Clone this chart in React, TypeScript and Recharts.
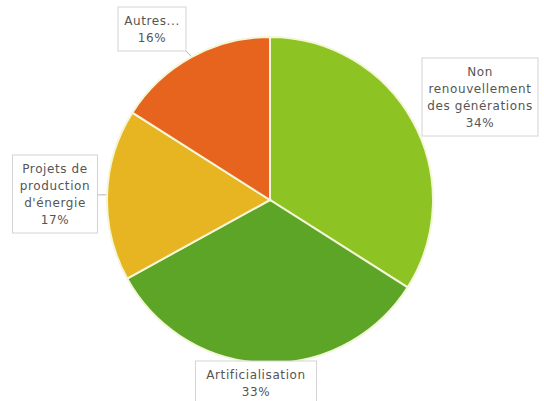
import React from "react"
import { PieChart, Pie, Cell } from "recharts"

// Share of each cause, clockwise from 12 o'clock
const categories = [
  "Non renouvellement des générations",
  "Artificialisation",
  "Projets de production d'énergie",
  "Autres...",
]
const shares = [34, 33, 17, 16]
const labelText = [
  ["Non", "renouvellement", "des générations"],
  ["Artificialisation"],
  ["Projets de", "production", "d'énergie"],
  ["Autres..."],
]
const colors = ["#8DC322", "#5CA526", "#E8B522", "#E6641E"]

// label box placement relative to the pie centre (layout only)
const labelBoxes = [
  { dx: 210, dy: -103, w: 116, leader: false },
  { dx: -14, dy: 183, w: 121, leader: false },
  { dx: -215, dy: -6, w: 85, leader: true },
  { dx: -118, dy: -171, w: 68, leader: true },
]

const data = categories.map((name, i) => ({ name, value: shares[i] }))

const LINE_H = 17
const RAD = Math.PI / 180

function renderLabel(props: any) {
  const { cx, cy, midAngle, outerRadius, index, value } = props
  const box = labelBoxes[index]
  const lines = [...labelText[index], `${value}%`]
  const h = lines.length * LINE_H + 10
  const bx = cx + box.dx
  const by = cy + box.dy
  const left = bx - box.w / 2
  const top = by - h / 2

  // leader from pie rim to the nearest edge of the box
  const ex = cx + (outerRadius + 1) * Math.cos(-midAngle * RAD)
  const ey = cy + (outerRadius + 1) * Math.sin(-midAngle * RAD)
  const nx = Math.min(Math.max(ex, left), left + box.w)
  const ny = Math.min(Math.max(ey, top), top + h)

  return (
    <g key={`lbl-${index}`}>
      {box.leader && (
        <line x1={ex} y1={ey} x2={nx} y2={ny} stroke="#b8b8b8" strokeWidth={1} />
      )}
      <rect x={left} y={top} width={box.w} height={h} fill="#fff" stroke="#d4d4d4" strokeWidth={1} />
      {lines.map((t, j) => (
        <text
          key={j}
          x={bx}
          y={top + 5 + LINE_H / 2 + j * LINE_H}
          textAnchor="middle"
          dominantBaseline="central"
          fontFamily="DejaVu Sans"
          fontSize={12}
          letterSpacing={0.6}
          fill="#555"
        >
          {t}
        </text>
      ))}
    </g>
  )
}

export default function App() {
  return (
    <div style={{ position: "absolute", left: 0, top: 0, width: 544, height: 401, background: "#fff" }}>
      <PieChart width={544} height={401} margin={{ top: 0, right: 0, bottom: 0, left: 0 }}>
        <Pie
          data={data}
          dataKey="value"
          nameKey="name"
          cx={270}
          cy={200}
          outerRadius={163}
          startAngle={90}
          endAngle={-270}
          stroke="#f4f6d8"
          strokeWidth={2}
          label={renderLabel}
          labelLine={false}
          isAnimationActive={false}
        >
          {data.map((d, i) => (
            <Cell key={d.name} fill={colors[i]} />
          ))}
        </Pie>
      </PieChart>
    </div>
  )
}
